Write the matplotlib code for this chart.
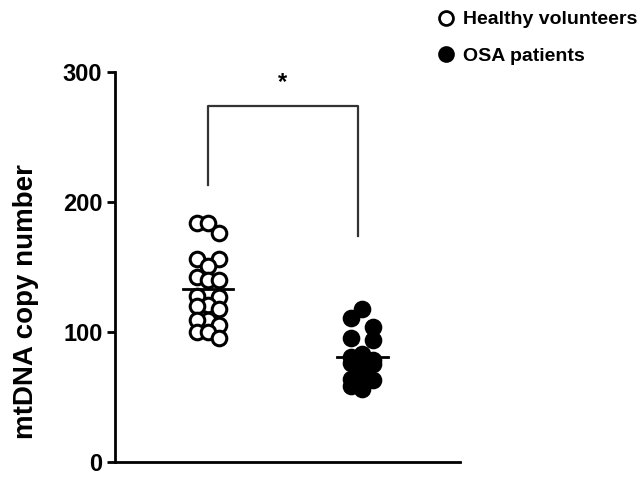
import numpy as np
import matplotlib
matplotlib.use("Agg")
import matplotlib.pyplot as plt
from matplotlib.lines import Line2D

plt.rcParams['font.family'] = ['Liberation Sans', 'DejaVu Sans']
plt.rcParams['font.weight'] = 'bold'

groups = ["Healthy volunteers", "OSA patients"]
healthy = [184, 184, 176, 156, 156, 151, 142, 140, 140, 128,
           127, 121, 120, 118, 109, 109, 105, 100, 100, 95]
osa = [118, 111, 104, 95, 94, 83, 81, 78, 76, 76,
       75, 70, 64, 63, 63, 58, 56]
yticks = [0, 100, 200, 300]
ylabel = "mtDNA copy number"
sig_label = "*"
bracket_left, bracket_top, bracket_right = 213, 274, 174


def swarm(values, px_x, px_y, step=11):
    # three-column scatter: each point goes to the slot farthest from its neighbours
    placed = []
    offsets = np.zeros(len(values))
    order = np.argsort(values)[::-1]
    for i in order:
        y = values[i] * px_y
        best, best_d = 0, -1
        for k in [0, -1, 1]:
            x = k * step
            d = min([np.hypot(x - px, y - py) for px, py in placed] + [99])
            if d > best_d + 0.5:
                best, best_d = x, d
        placed.append((best, y))
        offsets[i] = best / px_x
    return offsets


fig = plt.figure(figsize=(6.42, 4.78), dpi=100)
ax = fig.add_axes([0.179, 0.034, 0.538, 0.815])
ax.set_xlim(0.396, 2.636)
ax.set_ylim(0, 300)

px_x = 154.0          # pixels per x unit
px_y = 390.0 / 300.0  # pixels per y unit

for pos, vals, face in [(1, healthy, 'white'), (2, osa, 'black')]:
    vals = np.array(vals, dtype=float)
    off = swarm(vals, px_x, px_y)
    ax.plot(pos + off, vals, 'o', ms=10.5, mfc=face, mec='black', mew=2.2,
            linestyle='none', zorder=3)
    ax.plot([pos - 0.165, pos + 0.165], [vals.mean()] * 2, color='black',
            lw=2, zorder=4)

# significance bracket
ax.plot([1, 1, 1.97, 1.97], [bracket_left, bracket_top, bracket_top, bracket_right],
        color='#333333', lw=1.6, clip_on=False)
ax.text(1.485, 283, sig_label, ha='center', va='bottom', fontsize=17,
        fontweight='bold')

ax.spines['top'].set_visible(False)
ax.spines['right'].set_visible(False)
for s in ['left', 'bottom']:
    ax.spines[s].set_linewidth(2)
ax.set_xticks([])
ax.set_yticks(yticks)
ax.tick_params(axis='y', length=6, width=2, pad=3, labelsize=17)
for t in ax.get_yticklabels():
    t.set_fontweight('bold')
fig.text(0.041, 0.37, ylabel, rotation=90, ha='center', va='center',
         fontsize=20, fontweight='bold')

handles = [Line2D([], [], marker='o', ms=10, mfc='white', mec='black', mew=2,
                  linestyle='none'),
           Line2D([], [], marker='o', ms=10, mfc='black', mec='black', mew=2,
                  linestyle='none')]
leg = fig.legend(handles, groups, loc='upper left', bbox_to_anchor=(0.652, 1.014),
                 frameon=False, handlelength=1.0, handletextpad=0.4,
                 labelspacing=0.95, prop={'weight': 'bold', 'size': 14})

fig.savefig("out.png", dpi=100)
